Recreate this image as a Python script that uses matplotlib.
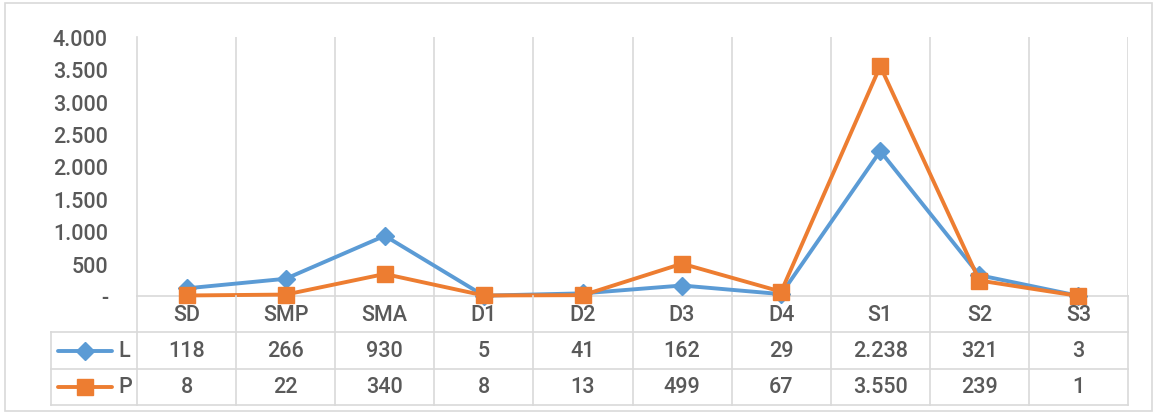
import matplotlib.pyplot as plt
from matplotlib.lines import Line2D

# data
categories = ["SD", "SMP", "SMA", "D1", "D2", "D3", "D4", "S1", "S2", "S3"]
L_values = [118, 266, 930, 5, 41, 162, 29, 2238, 321, 3]
P_values = [8, 22, 340, 8, 13, 499, 67, 3550, 239, 1]
y_ticks = [0, 500, 1000, 1500, 2000, 2500, 3000, 3500, 4000]

BLUE = "#5B9BD5"
ORANGE = "#ED7D31"
GRID = "#D9D9D9"
TXT = "#595959"
FS = 15.5
FW = "medium"
plt.rcParams['font.family'] = ['Roboto', 'DejaVu Sans']

W, H = 1159, 414
fig = plt.figure(figsize=(W / 100, H / 100), dpi=100)

# outer chart border
fig.add_artist(plt.Rectangle((5 / W, 2 / H), (1152 - 5) / W, (H - 6) / H,
                             transform=fig.transFigure, fill=False,
                             edgecolor=GRID, lw=1.2))


def fmt(v):
    return "-" if v == 0 else f"{v:,}".replace(",", ".")


# main plot
ax = fig.add_axes([137 / W, (H - 297) / H, 991 / W, (297 - 38) / H])
x = [i + 0.5 for i in range(len(categories))]
ax.plot(x, L_values, color=BLUE, lw=2.8, marker="D", ms=9, zorder=3, clip_on=False)
ax.plot(x, P_values, color=ORANGE, lw=2.8, marker="s", ms=12, zorder=4, clip_on=False)
ax.set_xlim(0, len(categories))
ax.set_ylim(0, 4000)
ax.set_yticks(y_ticks)
ax.set_yticklabels([fmt(v) for v in y_ticks], color=TXT, fontsize=FS, fontweight=FW)
ax.tick_params(axis="y", length=0, pad=21)
ax.set_xticks([])
for i in range(1, len(categories) + 1):
    ax.axvline(i, color=GRID, lw=1.2, zorder=1)
for s in ["top", "right"]:
    ax.spines[s].set_visible(False)
for s in ["left", "bottom"]:
    ax.spines[s].set_color(GRID)
    ax.spines[s].set_linewidth(1.2)

# data table
tx0 = (51 - 137) / 99.1
tab = fig.add_axes([51 / W, (H - 406) / H, (1128 - 51) / W, (406 - 297) / H])
tab.set_xlim(tx0, len(categories))
tab.set_ylim(0, 3)
tab.axis("off")
kw = dict(color=GRID, lw=1.2, clip_on=False)
for i in range(0, len(categories) + 1):
    tab.plot([i, i], [0, 3], **kw)
tab.plot([tx0, tx0], [0, 2], **kw)
for yy in [0, 1, 2]:
    tab.plot([tx0, len(categories)], [yy, yy], **kw)

for i, c in enumerate(categories):
    tab.text(i + 0.5, 2.5, c, ha="center", va="center", color=TXT, fontsize=FS, fontweight=FW)
    tab.text(i + 0.5, 1.5, fmt(L_values[i]), ha="center", va="center", color=TXT, fontsize=FS, fontweight=FW)
    tab.text(i + 0.5, 0.5, fmt(P_values[i]), ha="center", va="center", color=TXT, fontsize=FS, fontweight=FW)

# legend keys inside table
for yy, col, mk, ms, lab in [(1.5, BLUE, "D", 9, "L"), (0.5, ORANGE, "s", 12, "P")]:
    x0, x1 = tx0 + 7 / 99.1, tx0 + 61 / 99.1
    tab.add_line(Line2D([x0, x1], [yy, yy], color=col, lw=2.8, solid_capstyle="round"))
    tab.plot([(x0 + x1) / 2], [yy], marker=mk, ms=ms, color=col)
    tab.text(tx0 + 67 / 99.1, yy, lab, ha="left", va="center", color=TXT, fontsize=FS, fontweight=FW)

fig.savefig("out.png", dpi=100)
